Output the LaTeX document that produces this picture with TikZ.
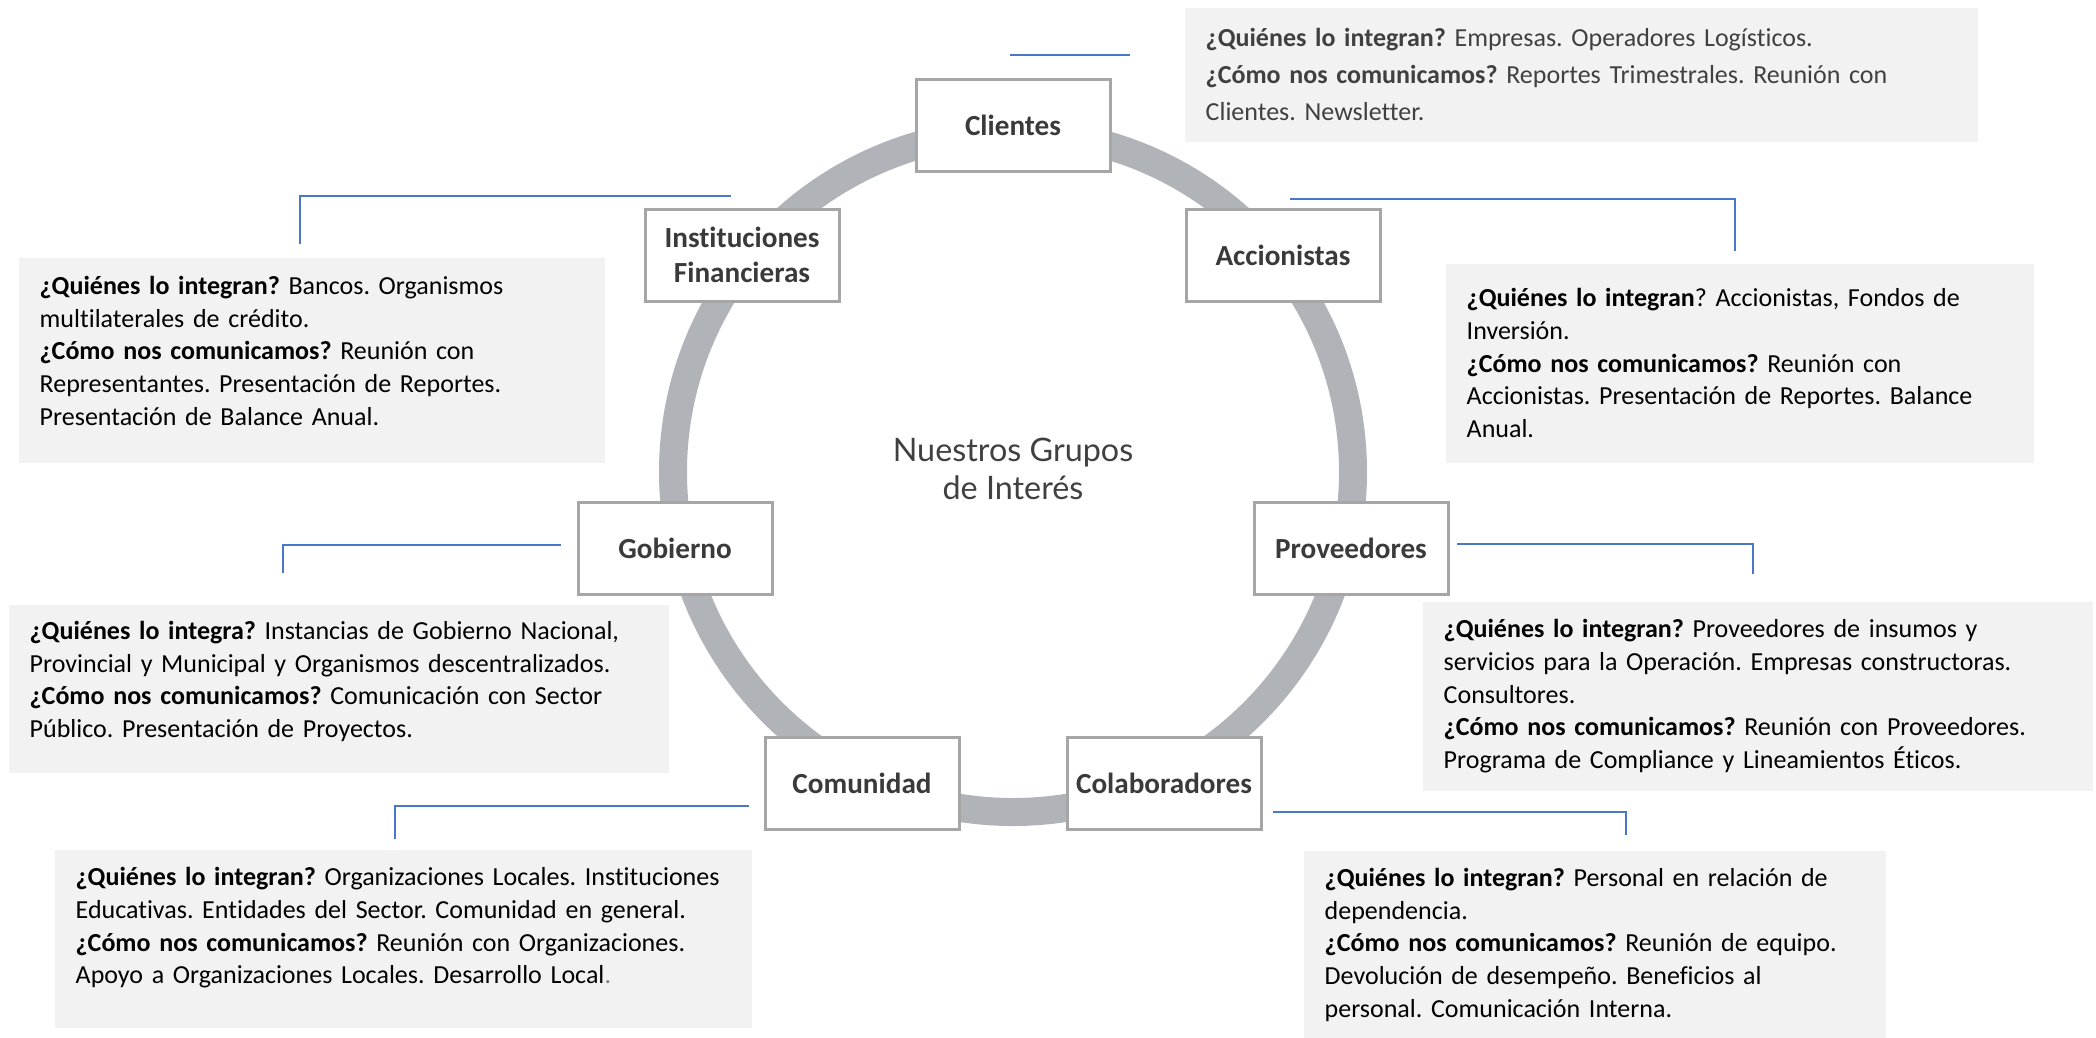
\documentclass[tikz,border=0pt]{standalone}
\usepackage{fontspec}
\setmainfont{Carlito}[Ligatures=NoCommon]
\newfontfamily\titlefont{Lato}
\usetikzlibrary{positioning,calc}
\definecolor{ringgray}{HTML}{B0B3B8}
\definecolor{edge}{HTML}{A6A6A6}
\definecolor{label}{HTML}{3A3A3A}
\definecolor{pale}{HTML}{F2F2F2}
\definecolor{leadblue}{HTML}{4A78C9}
\definecolor{ink}{HTML}{404040}
\newcommand{\lift}[1]{\rule[-#1]{0pt}{#1}}
\tikzset{box/.style={draw=edge,line width=0.85pt,fill=white,align=center,font=\bfseries\fontsize{8.3}{10}\selectfont,text=label,minimum width=19.4mm,minimum height=9.2mm,inner sep=0pt},infobox/.style={fill=pale,anchor=north west,align=left,inner xsep=2.1mm,inner ysep=0pt,font=\fontsize{7.4}{9.3}\selectfont},ring/.style={draw=ringgray,line width=2.8mm},lead/.style={draw=leadblue,line width=0.6pt}}

\begin{document}
\frenchspacing
\begin{tikzpicture}[x=0.1mm,y=-0.1mm]
\useasboundingbox (0,0) rectangle (2096,1037);
% ring and title
\coordinate (c) at (1013,472);
\draw[ring] (c) circle[radius=34mm];
\node[font=\titlefont\fontsize{9.2}{10.8}\selectfont,align=center,text=black!75] (title) at (1013,469) {Nuestros Grupos\\de Interés};
% groups round the ring
\node[box] (cli) at (1013,125) {Clientes};
\node[box] (acc) at (1283,255) {Accionistas};
\node[box] (pro) at (1351,548) {Proveedores};
\node[box] (col) at (1164,783) {Colaboradores};
\node[box] (com) at (862,783) {Comunidad};
\node[box] (gob) at (675,548) {Gobierno};
\node[box] (ins) at (742,255) {Instituciones\\Financieras};
% leader lines
\coordinate (cl1) at (1010,55); \coordinate (cl2) at (1130,55);
\coordinate (ac1) at (1290,199); \coordinate (ac2) at (1735,251);
\coordinate (pr1) at (1457,544); \coordinate (pr2) at (1753,574);
\coordinate (co1) at (1273,812); \coordinate (co2) at (1626,835);
\coordinate (cm1) at (749,806); \coordinate (cm2) at (395,839);
\coordinate (go1) at (561,545); \coordinate (go2) at (283,573);
\coordinate (in1) at (731,196); \coordinate (in2) at (300,244);
\draw[lead] (cl1)--(cl2);
\draw[lead] (ac1)-|(ac2); \draw[lead] (pr1)-|(pr2); \draw[lead] (co1)-|(co2);
\draw[lead] (cm1)-|(cm2); \draw[lead] (go1)-|(go2); \draw[lead] (in1)-|(in2);
% who they are and how we talk to them
\node[infobox,text=ink,font=\fontsize{7.4}{10.5}\selectfont,text width=75.1mm,minimum height=13.4mm] (cliinfo) at (1184,7) {\textbf{¿Quiénes lo integran?} Empresas. Operadores Logísticos.\\\textbf{¿Cómo nos comunicamos?} Reportes Trimestrales. Reunión con\\Clientes. Newsletter.};
\node[infobox,text width=54.6mm,minimum height=19.9mm] (accinfo) at (1445,263) {\textbf{¿Quiénes lo integran}? Accionistas, Fondos de\\Inversión.\\\textbf{¿Cómo nos comunicamos?} Reunión con\\Accionistas. Presentación de Reportes. Balance\\Anual.};
\node[infobox,text width=62.8mm,minimum height=18.9mm] (proinfo) at (1422,601) {\textbf{¿Quiénes lo integran?} Proveedores de insumos y\\servicios para la Operación. Empresas constructoras.\\Consultores.\\\textbf{¿Cómo nos comunicamos?} Reunión con Proveedores.\\Programa de Compliance y Lineamientos Éticos.};
\node[infobox,text width=54.0mm,minimum height=18.8mm] (colinfo) at (1303,850) {\textbf{¿Quiénes lo integran?} Personal en relación de\\dependencia.\\\textbf{¿Cómo nos comunicamos?} Reunión de equipo.\\Devolución de desempeño. Beneficios al\\personal. Comunicación Interna.};
\node[infobox,text width=65.5mm,minimum height=17.8mm] (cominfo) at (54,849) {\textbf{¿Quiénes lo integran?} Organizaciones Locales. Instituciones\\Educativas. Entidades del Sector. Comunidad en general.\\\textbf{¿Cómo nos comunicamos?} Reunión con Organizaciones.\\Apoyo a Organizaciones Locales. Desarrollo Local{\color{gray}.}\lift{2.6mm}};
\node[infobox,text width=61.8mm,minimum height=16.8mm] (goinfo) at (8,604) {\textbf{¿Quiénes lo integra?} Instancias de Gobierno Nacional,\\Provincial y Municipal y Organismos descentralizados.\\\textbf{¿Cómo nos comunicamos?} Comunicación con Sector\\Público. Presentación de Proyectos.\lift{1.9mm}};
\node[infobox,text width=54.4mm,minimum height=20.5mm] (ininfo) at (18,257) {\textbf{¿Quiénes lo integran?} Bancos. Organismos\\multilaterales de crédito.\\\textbf{¿Cómo nos comunicamos?} Reunión con\\Representantes. Presentación de Reportes.\\Presentación de Balance Anual.\lift{1.9mm}};
\end{tikzpicture}
\end{document}
